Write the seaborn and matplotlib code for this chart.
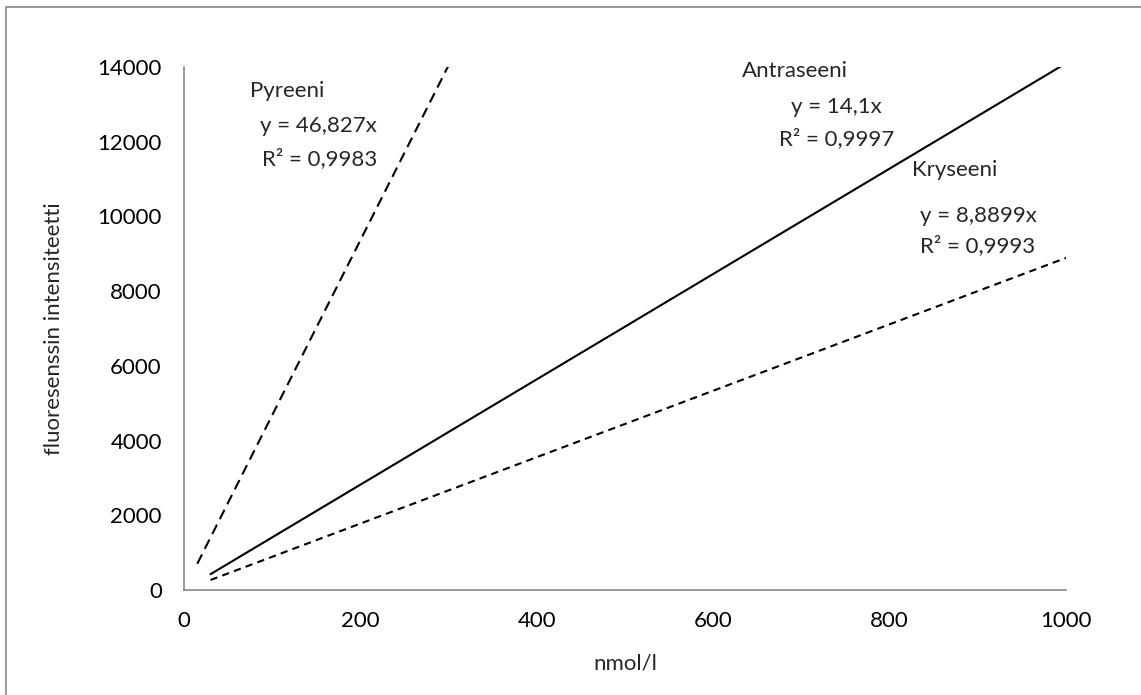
import numpy as np
import pandas as pd
import matplotlib
matplotlib.use("Agg")
import matplotlib.pyplot as plt
from matplotlib.patches import Rectangle
import seaborn as sns

# ── Data (trendline end points) ────────────────────────────────────────────
pyr_x = [15, 300]
pyr_y = [702, 14048]
ant_x = [30, 1000]
ant_y = [423, 14100]
kry_x = [30, 1000]
kry_y = [267, 8890]

series_names = ["Pyreeni", "Antraseeni", "Kryseeni"]
equations = ["y = 46,827x", "y = 14,1x", "y = 8,8899x"]
r_squared = ["R² = 0,9983", "R² = 0,9997", "R² = 0,9993"]

x_ticks = [0, 200, 400, 600, 800, 1000]
y_ticks = [0, 2000, 4000, 6000, 8000, 10000, 12000, 14000]

df = pd.concat([
    pd.DataFrame({"x": pyr_x, "y": pyr_y, "series": "Pyreeni"}),
    pd.DataFrame({"x": ant_x, "y": ant_y, "series": "Antraseeni"}),
    pd.DataFrame({"x": kry_x, "y": kry_y, "series": "Kryseeni"}),
], ignore_index=True)

sns.set_theme(style="white")
plt.rcParams["font.family"] = ["Lato", "DejaVu Sans"]
GREY = "#868686"
FS = 16

fig = plt.figure(figsize=(11.41, 6.95), dpi=100)
ax = fig.add_axes([0.1613, 0.1511, 0.7730, 0.7525])

sns.lineplot(data=df, x="x", y="y", hue="series", style="series",
             palette={s: "black" for s in series_names},
             dashes={"Pyreeni": (5, 3), "Antraseeni": "", "Kryseeni": (3.5, 2.5)},
             linewidth=1.5, legend=False, sort=False, ax=ax)

ax.set_xlim(0, 1000)
ax.set_ylim(0, 14000)
ax.set_xticks(x_ticks)
ax.set_yticks(y_ticks)
ax.tick_params(axis="both", direction="out", length=5, width=1.2, color=GREY,
               labelsize=FS, labelcolor="black")
ax.tick_params(axis="y", pad=11)
ax.tick_params(axis="x", pad=10)
for side in ["top", "right"]:
    ax.spines[side].set_visible(False)
for side in ["left", "bottom"]:
    ax.spines[side].set_color(GREY)
    ax.spines[side].set_linewidth(1.2)

ax.set_xlabel("nmol/l", fontsize=FS, labelpad=16)
ax.set_ylabel("fluoresenssin intensiteetti", fontsize=FS, labelpad=24)

# ── Trendline labels (baseline positions in data units) ────────────────────
label_pos = [(75, 13200), (633, 13730), (825, 11080)]
eq_pos = [(86, 12260), (688, 12770), (834, 9850)]
r2_pos = [(88, 11380), (675, 11910), (834, 9050)]
for name, eq, r2, p1, p2, p3 in zip(series_names, equations, r_squared,
                                     label_pos, eq_pos, r2_pos):
    ax.text(*p1, name, fontsize=FS, va="baseline", ha="left", clip_on=False)
    ax.text(*p2, eq, fontsize=FS, va="baseline", ha="left", clip_on=False)
    ax.text(*p3, r2, fontsize=FS, va="baseline", ha="left", clip_on=False)

# chart area border
fig.patches.append(Rectangle((6 / 1141, -0.1), 1.2, 1.1 - 7 / 695,
                             transform=fig.transFigure, fill=False,
                             edgecolor=GREY, linewidth=1.2))

fig.savefig("out.png", dpi=100)
